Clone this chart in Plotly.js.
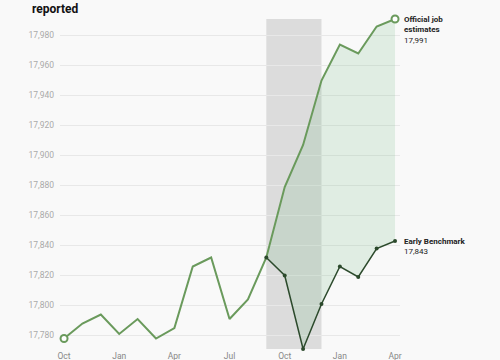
<!DOCTYPE html>
<html>
<head>
<meta charset="utf-8">
<script src="https://cdn.plot.ly/plotly-3.0.1.min.js"></script>
<style>html,body{margin:0;padding:0;background:#f9f9f9;}#chart{width:500px;height:360px;}</style>
</head>
<body>
<div id="chart"></div>
<script>
const months = ['2022-10','2022-11','2022-12','2023-01','2023-02','2023-03','2023-04','2023-05','2023-06','2023-07','2023-08','2023-09','2023-10','2023-11','2023-12','2024-01','2024-02','2024-03','2024-04'];
const tickMonths = ['2022-10','2023-01','2023-04','2023-07','2023-10','2024-01','2024-04'];
const tickLabels = ['Oct','Jan','Apr','Jul','Oct','Jan','Apr'];
const official = [17778, 17788, 17794, 17781, 17791, 17778, 17785, 17826, 17832, 17791, 17804, 17832, 17879, 17907, 17950, 17974, 17968, 17986, 17991];
const benchmarkMonths = ['2023-09','2023-10','2023-11','2023-12','2024-01','2024-02','2024-03','2024-04'];
const benchmark = [17832, 17820, 17771, 17801, 17826, 17819, 17838, 17843];
const shadeStart = '2023-09', shadeEnd = '2023-12';
const yTicks = [17780, 17800, 17820, 17840, 17860, 17880, 17900, 17920, 17940, 17960, 17980];

const startIdx = months.indexOf(benchmarkMonths[0]);
const officialOverlap = official.slice(startIdx);
const last = official.length - 1;

const green = '#6a9a5c';
const dark = '#2c4a2c';
const font = 'Roboto, "Open Sans", sans-serif';

const traces = [
  {x: benchmarkMonths, y: benchmark, type: 'scatter', mode: 'lines', line: {width: 0, color: dark}, hoverinfo: 'skip', showlegend: false},
  {x: benchmarkMonths, y: officialOverlap, type: 'scatter', mode: 'lines', fill: 'tonexty', fillcolor: 'rgba(110,185,125,0.18)', line: {width: 0}, hoverinfo: 'skip', showlegend: false},
  {x: months, y: official, type: 'scatter', mode: 'lines', line: {color: green, width: 2}, showlegend: false},
  {x: [months[0], months[last]], y: [official[0], official[last]], type: 'scatter', mode: 'markers',
   marker: {size: 7, color: '#ffffff', line: {color: green, width: 2}}, cliponaxis: false, showlegend: false},
  {x: benchmarkMonths, y: benchmark, type: 'scatter', mode: 'lines+markers', line: {color: dark, width: 1.5},
   marker: {size: 4, color: dark}, cliponaxis: false, showlegend: false}
];

const layout = {
  width: 500, height: 360,
  margin: {l: 60, r: 100, t: 19, b: 11},
  paper_bgcolor: '#f9f9f9', plot_bgcolor: '#f9f9f9',
  font: {family: font, size: 8, color: '#999'},
  xaxis: {type: 'category', categoryarray: months, range: [-0.22, 18.27], tickvals: tickMonths, ticktext: tickLabels,
          showgrid: false, zeroline: false, showline: false, ticks: '', tickfont: {size: 8.5, color: '#888'}, ticklabelstandoff: 0, fixedrange: true},
  yaxis: {range: [17771, 17991], tickvals: yTicks, ticktext: yTicks.map(v => v.toLocaleString('en-US')),
          showgrid: true, gridcolor: '#e8e8e8', gridwidth: 1, zeroline: false, showline: false, ticks: '',
          tickfont: {size: 8.5, color: '#aaa'}, ticklabelstandoff: 5},
  shapes: [{type: 'rect', xref: 'x', yref: 'paper', x0: shadeStart, x1: shadeEnd, y0: 0, y1: 1,
            fillcolor: '#dcdcdc', line: {width: 0}, layer: 'below'}],
  annotations: [
    {text: '<b>reported</b>', xref: 'paper', yref: 'paper', x: -0.085, y: 1.055, xanchor: 'left', yanchor: 'top', showarrow: false,
     borderpad: 0, font: {family: font, size: 12, color: '#111'}},
    {text: '<b>Official job<br>estimates</b><br>17,991', xref: 'paper', yref: 'y', x: 1.005, y: official[last], xanchor: 'left', yanchor: 'top', yshift: 6,
     align: 'left', showarrow: false, font: {family: font, size: 8, color: '#222'}},
    {text: '<b>Early Benchmark</b><br>17,843', xref: 'paper', yref: 'y', x: 1.005, y: benchmark[benchmark.length-1], xanchor: 'left', yanchor: 'top', yshift: 6,
     align: 'left', showarrow: false, font: {family: font, size: 8, color: '#222'}}
  ]
};

Plotly.newPlot('chart', traces, layout, {displayModeBar: false, staticPlot: true});
</script>
</body>
</html>
